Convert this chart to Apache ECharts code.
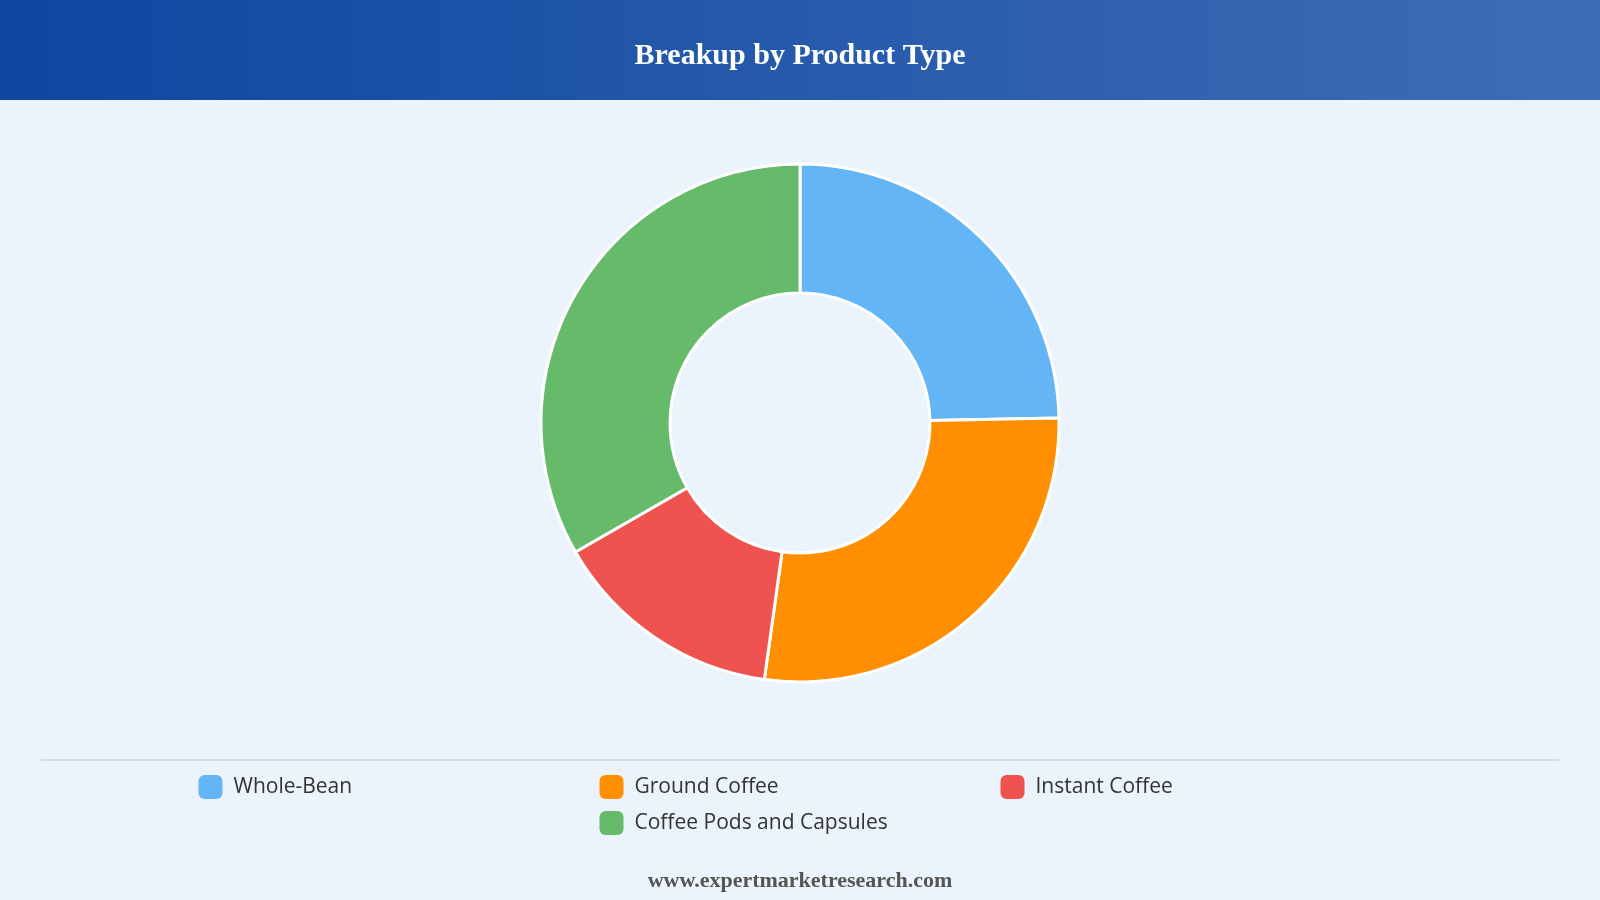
<!DOCTYPE html>
<html>
<head>
<meta charset="utf-8">
<title>Breakup by Product Type</title>
<script src="https://cdn.jsdelivr.net/npm/echarts@6/dist/echarts.min.js"></script>
<style>
  html, body { margin: 0; padding: 0; background: #ebf3fc; }
  #main { width: 1600px; height: 900px; }
</style>
</head>
<body>
<div id="main"></div>
<script>
// product types and their share (%)
var productTypes = ['Whole-Bean', 'Ground Coffee', 'Instant Coffee', 'Coffee Pods and Capsules'];
var shares = [24.7, 27.5, 14.5, 33.3];
var sliceColors = ['#64b5f6', '#ff8f00', '#ef5350', '#66bb6a'];

var myChart = echarts.init(document.getElementById('main'));

var pieData = [];
for (var i = 0; i < productTypes.length; i++) {
  pieData.push({ name: productTypes[i], value: shares[i], itemStyle: { color: sliceColors[i] } });
}

// legend look shared by both rows
var legendBase = {
  left: 'center',
  orient: 'horizontal',
  itemWidth: 24,
  itemHeight: 24,
  itemGap: 0,
  icon: 'roundRect',
  selectedMode: false,
  itemStyle: { borderWidth: 0 },
  textStyle: {
    fontFamily: 'Open Sans',
    fontSize: 21,
    color: '#333',
    width: 366,
    lineHeight: 24,
    padding: [0, 0, 0, 6]
  }
};

var option = {
  backgroundColor: '#ebf3fc',
  graphic: [
    {
      type: 'rect',
      left: 0, top: 0,
      shape: { width: 1600, height: 100 },
      style: {
        fill: new echarts.graphic.LinearGradient(0, 0, 1, 0, [
          { offset: 0, color: '#0d47a1' },
          { offset: 1, color: '#3f6db5' }
        ])
      },
      z: 0
    },
    {
      type: 'line',
      shape: { x1: 41, y1: 760, x2: 1559, y2: 760 },
      style: { stroke: '#d8dce2', lineWidth: 2 }
    }
  ],
  title: [
    {
      text: 'Breakup by Product Type',
      left: 'center',
      top: 36,
      textStyle: { fontFamily: 'Liberation Serif', fontWeight: 'bold', fontSize: 30, color: '#fff' },
      z: 10
    },
    {
      text: 'www.expertmarketresearch.com',
      left: 'center',
      top: 865,
      textStyle: { fontFamily: 'Liberation Serif', fontWeight: 'bold', fontSize: 22, color: '#555' }
    }
  ],
  legend: [
    Object.assign({}, legendBase, { top: 770, data: productTypes.slice(0, 3) }),
    Object.assign({}, legendBase, { top: 806, data: productTypes.slice(3) })
  ],
  series: [
    {
      type: 'pie',
      center: [800, 423],
      radius: [130, 259],
      startAngle: 90,
      clockwise: true,
      label: { show: false },
      labelLine: { show: false },
      itemStyle: { borderColor: '#fff', borderWidth: 3 },
      data: pieData
    }
  ]
};

myChart.setOption(option);
</script>
</body>
</html>
